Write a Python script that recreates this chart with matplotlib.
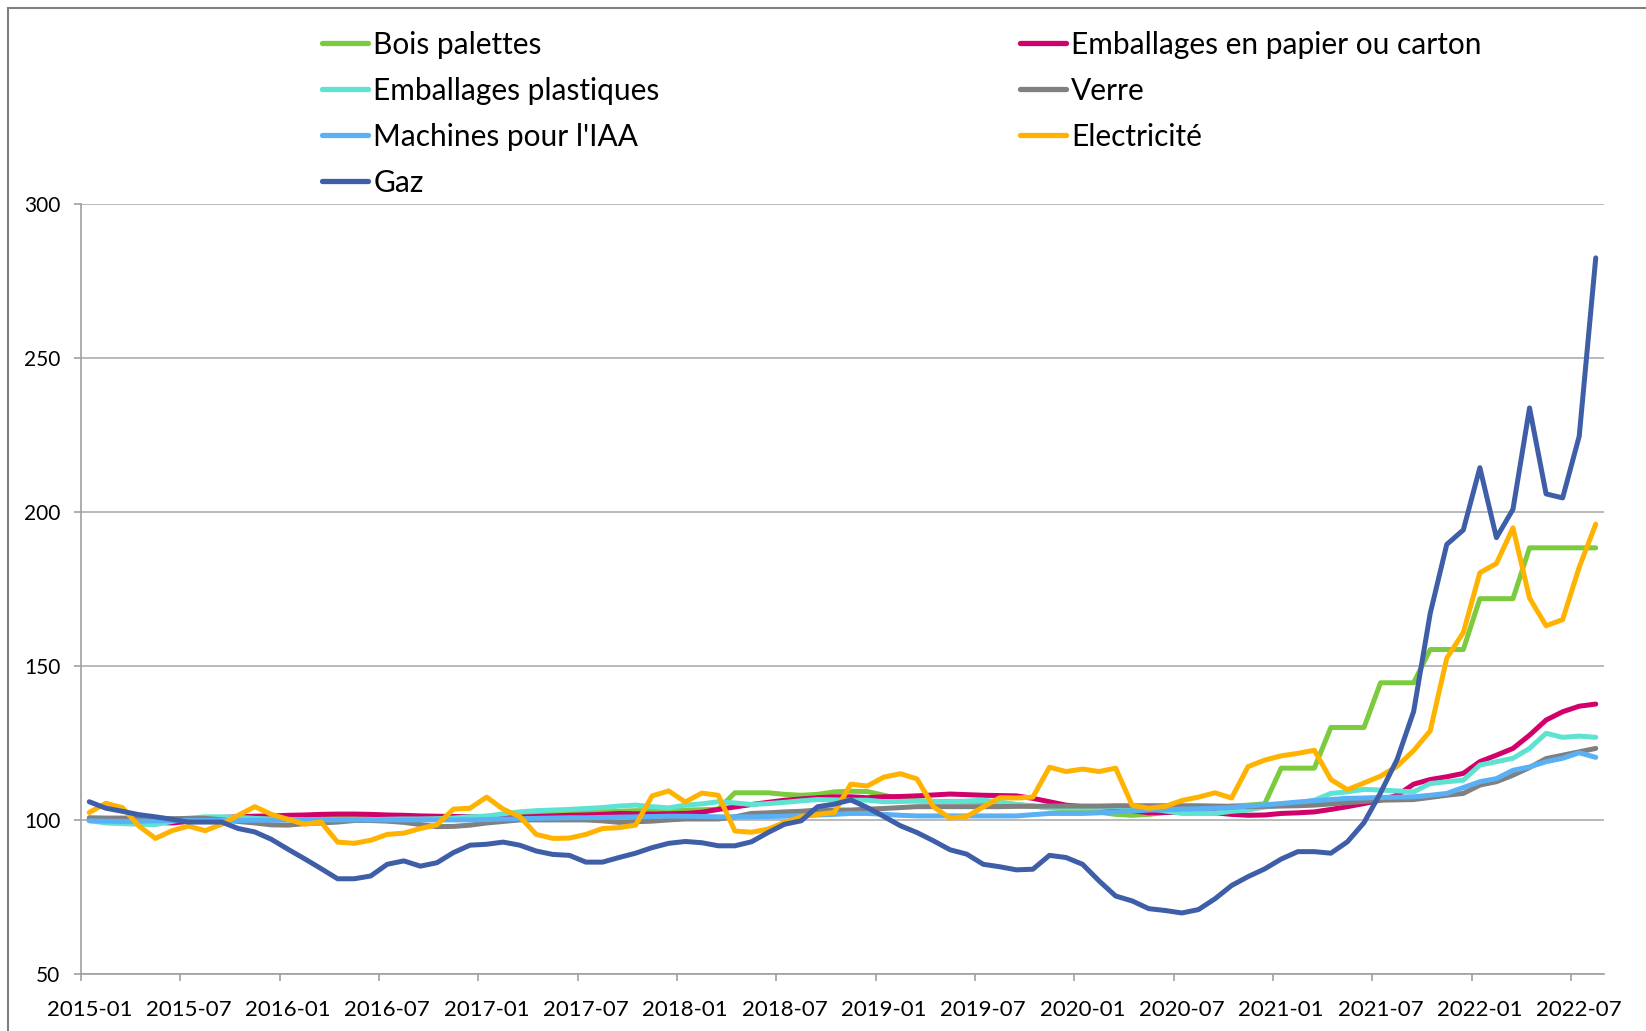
import numpy as np
import pandas as pd
import matplotlib
matplotlib.use('Agg')
import matplotlib.pyplot as plt

plt.rcParams['font.family'] = ['Lato', 'DejaVu Sans']

# monthly index, 2015-01 .. 2022-08
months = pd.period_range('2015-01', '2022-08', freq='M').strftime('%Y-%m').tolist()

bois = [100.0, 99.8, 99.6, 99.5, 99.6, 99.8, 100.0, 100.2, 100.3, 100.4, 100.5, 100.5,
        100.6, 100.6, 100.7, 100.7, 100.8, 100.8, 100.8, 100.9, 100.9, 101.0, 101.0, 101.0,
        101.2, 101.4, 101.6, 101.8, 102.0, 102.2, 102.4, 102.6, 102.8, 103.0, 103.0, 103.1,
        103.2, 103.3, 103.5, 108.8, 108.8, 108.8, 108.3, 108.0, 108.3, 109.1, 109.3, 109.2,
        108.0, 106.8, 106.2, 106.0, 106.0, 106.0, 106.0, 105.5, 105.0, 104.5, 104.0, 103.5,
        103.0, 102.5, 101.8, 101.5, 101.8, 102.4, 103.0, 103.5, 103.8, 104.5, 104.8, 105.2,
        116.8, 116.8, 116.8, 130.0, 130.0, 130.0, 144.5, 144.5, 144.5, 155.3, 155.3, 155.3,
        171.8, 171.8, 171.8, 188.3, 188.3, 188.3, 188.3, 188.3]

papier = [100.0, 100.0, 99.8, 99.5, 99.2, 99.0, 99.5, 100.2, 100.8, 101.0, 101.2, 101.3,
          101.5, 101.6, 101.8, 101.9, 101.9, 101.8, 101.6, 101.5, 101.3, 101.2, 101.1, 101.0,
          100.8, 100.7, 100.9, 101.1, 101.3, 101.5, 101.6, 101.8, 102.1, 102.0, 101.9, 102.0,
          102.1, 102.5, 103.4, 104.2, 105.0, 105.7, 106.4, 106.8, 107.2, 107.5, 107.5, 107.2,
          107.5, 107.6, 107.8, 108.1, 108.4, 108.2, 108.0, 107.9, 107.8, 107.0, 105.9, 104.8,
          104.3, 104.0, 103.7, 103.0, 102.3, 102.4, 102.5, 102.5, 102.3, 101.8, 101.5, 101.6,
          102.1, 102.3, 102.6, 103.4, 104.3, 105.3, 106.4, 108.0, 111.6, 113.1, 114.0, 115.1,
          118.9, 121.0, 123.2, 127.5, 132.4, 135.1, 136.9, 137.6]

plastiques = [99.8, 99.0, 98.8, 98.6, 98.5, 99.5, 100.5, 101.0, 101.0, 100.8, 100.5, 100.3,
              100.2, 100.0, 100.0, 100.0, 100.0, 100.1, 100.2, 100.3, 100.3, 100.4, 100.6, 101.0,
              101.2, 102.0, 102.6, 103.0, 103.2, 103.4, 103.7, 104.0, 104.5, 104.8, 104.3, 103.9,
              104.8, 105.2, 105.9, 105.5, 105.0, 105.3, 105.7, 106.2, 106.6, 106.5, 106.4, 106.4,
              105.9, 106.0, 106.1, 106.0, 105.9, 106.1, 106.4, 105.8, 105.0, 104.5, 103.9, 103.9,
              103.9, 104.0, 104.3, 104.0, 103.7, 102.9, 102.1, 102.1, 102.1, 102.8, 103.2, 104.2,
              104.8, 105.5, 106.4, 108.6, 109.1, 109.9, 109.7, 109.4, 109.1, 111.8, 112.4, 112.9,
              117.8, 118.9, 120.0, 123.2, 128.1, 126.8, 127.2, 126.8]

verre = [100.7, 100.6, 100.6, 100.5, 100.5, 100.4, 100.5, 100.5, 100.0, 99.5, 99.0, 98.4,
         98.3, 98.8, 99.0, 99.3, 99.8, 99.8, 99.6, 99.2, 98.5, 97.8, 97.9, 98.3,
         99.0, 99.5, 100.0, 100.0, 100.0, 100.0, 100.0, 99.7, 99.2, 99.4, 99.6, 100.0,
         100.3, 100.3, 100.3, 101.0, 102.1, 102.3, 102.6, 102.8, 103.2, 103.2, 103.2, 103.5,
         103.7, 104.0, 104.3, 104.3, 104.3, 104.3, 104.3, 104.3, 104.4, 104.4, 104.5, 104.5,
         104.5, 104.5, 104.6, 104.6, 104.6, 104.6, 104.6, 104.6, 104.5, 104.4, 104.3, 104.4,
         104.5, 104.6, 104.8, 105.2, 105.6, 106.0, 106.4, 106.5, 106.6, 107.3, 108.0, 108.6,
         111.3, 112.4, 114.5, 117.0, 119.9, 121.0, 122.1, 123.2]

machines = [99.7, 99.6, 99.5, 99.6, 99.7, 99.8, 99.8, 99.8, 99.8, 99.8, 99.9, 99.9,
            100.0, 100.0, 100.0, 100.0, 100.0, 100.0, 100.0, 100.0, 100.0, 100.0, 100.0, 100.0,
            100.1, 100.3, 100.4, 100.5, 100.6, 100.7, 100.7, 100.8, 100.9, 101.0, 101.1, 101.2,
            101.2, 101.1, 101.0, 101.0, 101.0, 101.1, 101.2, 101.4, 101.6, 101.8, 102.1, 102.1,
            101.8, 101.5, 101.3, 101.3, 101.3, 101.3, 101.3, 101.3, 101.3, 101.7, 102.1, 102.1,
            102.1, 102.3, 102.6, 102.9, 103.2, 103.3, 103.5, 103.6, 103.8, 104.0, 104.5, 104.9,
            105.3, 105.8, 106.2, 106.6, 107.0, 107.1, 107.3, 107.4, 107.5, 108.0, 108.6, 110.5,
            112.4, 113.4, 116.1, 117.2, 118.9, 120.0, 121.8, 120.3]

electricite = [102.4, 105.4, 104.0, 98.0, 94.0, 96.5, 98.0, 96.5, 98.6, 101.5, 104.3, 101.8,
               100.2, 98.6, 99.3, 92.8, 92.4, 93.4, 95.3, 95.7, 97.2, 98.4, 103.5, 103.8,
               107.4, 103.5, 101.1, 95.3, 94.0, 94.1, 95.3, 97.2, 97.5, 98.3, 107.8, 109.4,
               105.8, 108.7, 108.0, 96.4, 96.0, 97.0, 99.2, 101.0, 101.8, 102.4, 111.6, 111.0,
               113.9, 115.0, 113.3, 104.2, 100.6, 101.1, 104.2, 107.2, 107.1, 107.4, 117.1, 115.7,
               116.5, 115.7, 116.8, 104.7, 103.8, 104.4, 106.3, 107.4, 108.8, 107.1, 117.3, 119.4,
               120.8, 121.6, 122.6, 113.1, 109.8, 112.0, 114.2, 117.4, 122.5, 128.9, 152.5, 160.8,
               180.2, 183.2, 194.8, 172.0, 163.0, 165.0, 182.0, 196.0]

gaz = [105.9, 103.8, 102.8, 101.7, 101.0, 100.2, 99.3, 99.3, 99.3, 97.2, 96.1, 93.7,
       90.5, 87.4, 84.2, 80.9, 80.9, 81.8, 85.6, 86.7, 85.0, 86.1, 89.4, 91.8,
       92.1, 92.8, 91.8, 89.9, 88.8, 88.5, 86.3, 86.3, 87.8, 89.2, 91.0, 92.4,
       93.0, 92.6, 91.6, 91.6, 92.9, 95.9, 98.6, 99.7, 104.3, 105.1, 106.5, 104.0,
       101.1, 98.1, 95.9, 93.2, 90.3, 88.9, 85.6, 84.8, 83.8, 84.0, 88.5, 87.8,
       85.6, 80.2, 75.3, 73.7, 71.2, 70.6, 69.8, 70.9, 74.4, 78.7, 81.6, 84.1,
       87.3, 89.7, 89.7, 89.2, 92.9, 99.1, 108.8, 119.6, 135.2, 167.0, 189.4, 194.1,
       214.3, 191.6, 200.8, 233.7, 205.8, 204.5, 224.5, 282.4]

names = ['Bois palettes', 'Emballages en papier ou carton', 'Emballages plastiques', 'Verre',
         "Machines pour l'IAA", 'Electricité', 'Gaz']
colors = ['#7CCB3F', '#D1006B', '#5EE2D2', '#808080', '#5AB0F5', '#FFB300', '#3F5EA8']
series = [bois, papier, plastiques, verre, machines, electricite, gaz]

fig = plt.figure(figsize=(16.46, 10.31), dpi=100)
# outer frame of the chart (only top and left are visible in the picture)
fig.patches.append(plt.Rectangle((0.005, -0.05), 1.2, 1.042, transform=fig.transFigure,
                                 fill=False, edgecolor='#808080', lw=1.5))

ax = fig.add_axes([0.0492, 0.0553, 0.9253, 0.7472])
x = np.arange(len(months))
lines = {}
for name, vals, col in zip(names, series, colors):
    lines[name], = ax.plot(x, vals, color=col, lw=3.6, solid_joinstyle='round',
                           solid_capstyle='round', label=name)

ax.set_xlim(-0.5, len(months) - 0.5)
ax.set_ylim(50, 300)
ax.set_yticks(range(50, 301, 50))
ax.yaxis.grid(True, color='#ADADAD', lw=1.2)
ax.set_axisbelow(True)

# labels under the categories, tick marks between them
ax.set_xticks(x[::6])
ax.set_xticklabels(months[::6])
ax.set_xticks(np.arange(-0.5, len(months) - 1, 6), minor=True)
ax.tick_params(axis='x', which='major', length=0, pad=19, labelsize=16)
ax.tick_params(axis='x', which='minor', length=5, color='#A0A0A0', width=1.2)
ax.tick_params(axis='y', length=5, color='#A0A0A0', width=1.2, pad=10, labelsize=15)

for s in ['top', 'right']:
    ax.spines[s].set_visible(False)
for s in ['left', 'bottom']:
    ax.spines[s].set_color('#A0A0A0')
    ax.spines[s].set_linewidth(1.2)

# legend in two blocks, filled row by row in the original
left_col = ['Bois palettes', 'Emballages plastiques', "Machines pour l'IAA", 'Gaz']
right_col = ['Emballages en papier ou carton', 'Verre', 'Electricité']
for col_names, xpos in [(left_col, 0.1955), (right_col, 0.6195)]:
    leg = fig.legend([lines[n] for n in col_names], col_names, loc='upper left',
                     bbox_to_anchor=(xpos, 0.970), frameon=False, fontsize=21.5,
                     handlelength=1.55, handletextpad=0.17, labelspacing=0.6,
                     borderpad=0, borderaxespad=0)
    for h in leg.legend_handles:
        h.set_linewidth(3.8)

fig.savefig('out.png', dpi=100)
